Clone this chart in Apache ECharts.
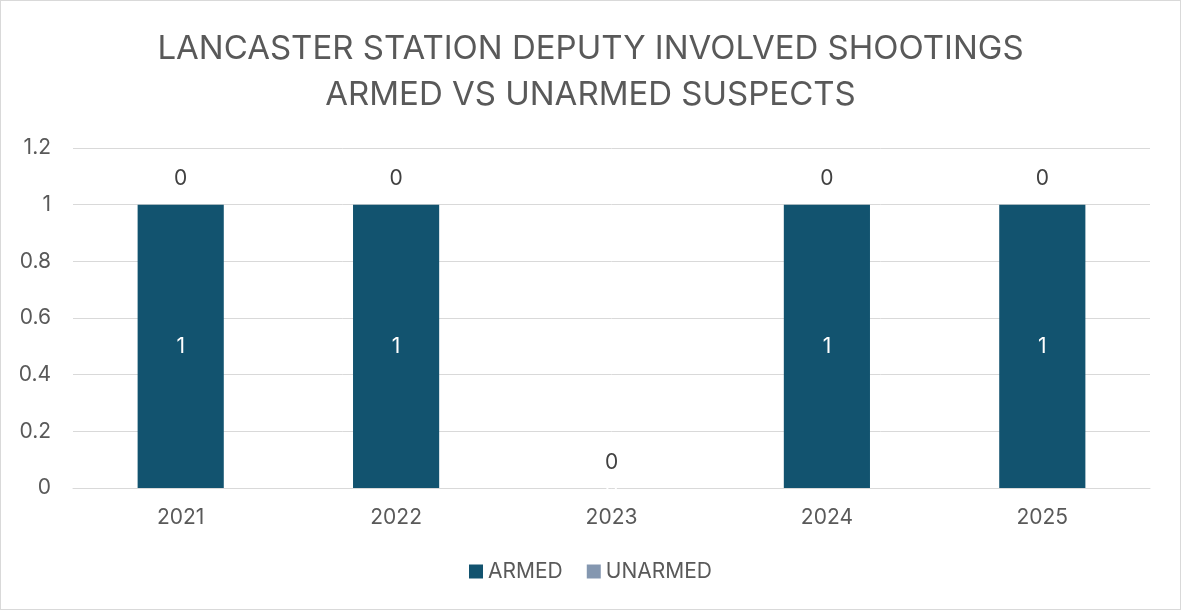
<!DOCTYPE html>
<html>
<head>
<meta charset="utf-8">
<script src="https://cdn.jsdelivr.net/npm/echarts@6/dist/echarts.min.js"></script>
<style>
html,body{margin:0;padding:0;background:#fff;}
#chart{position:absolute;left:0;top:0;width:1179px;height:608px;border:1px solid #d9d9d9;}
</style>
</head>
<body>
<div id="chart"></div>
<script>
const categories = ['2021', '2022', '2023', '2024', '2025'];
const armed = [1, 1, 0, 1, 1];
const unarmed = [0, 0, 0, 0, 0];
const yTicks = { min: 0, max: 1.2, interval: 0.2 };

const chart = echarts.init(document.getElementById('chart'), null, { renderer: 'canvas' });
const font = 'Inter, "Open Sans", sans-serif';
chart.setOption({
  animation: false,
  textStyle: { fontFamily: font },
  title: {
    text: 'LANCASTER STATION DEPUTY INVOLVED SHOOTINGS\nARMED VS UNARMED SUSPECTS',
    left: 'center',
    top: 20,
    textStyle: { fontSize: 33, fontWeight: 'normal', color: '#595959', lineHeight: 46, fontFamily: font }
  },
  legend: {
    bottom: 22,
    left: 'center',
    itemWidth: 14,
    itemHeight: 14,
    itemGap: 24,
    icon: 'rect',
    textStyle: { fontSize: 21, color: '#595959', fontFamily: font },
    data: ['ARMED', 'UNARMED']
  },
  grid: { left: 72, right: 30, top: 147, bottom: 121, containLabel: false },
  xAxis: {
    type: 'category',
    data: categories,
    axisLine: { lineStyle: { color: '#d9d9d9', width: 1 } },
    axisTick: { show: false },
    axisLabel: { fontSize: 21, color: '#595959', margin: 19, fontFamily: font }
  },
  yAxis: {
    type: 'value',
    min: yTicks.min,
    max: yTicks.max,
    interval: yTicks.interval,
    axisLine: { show: false },
    axisTick: { show: false },
    splitLine: { lineStyle: { color: '#d9d9d9', width: 1 } },
    axisLabel: { fontSize: 21, color: '#595959', margin: 22, fontFamily: font }
  },
  series: [
    {
      name: 'ARMED',
      type: 'bar',
      stack: 'total',
      data: armed,
      barWidth: '40%',
      itemStyle: { color: '#12536F' },
      label: { show: true, position: 'inside', color: '#ffffff', fontSize: 21, fontFamily: font }
    },
    {
      name: 'UNARMED',
      type: 'bar',
      stack: 'total',
      data: unarmed,
      barWidth: '40%',
      itemStyle: { color: '#8497B0' },
      label: { show: true, position: 'top', distance: 15, color: '#404040', fontSize: 21, fontFamily: font }
    }
  ]
});
</script>
</body>
</html>
